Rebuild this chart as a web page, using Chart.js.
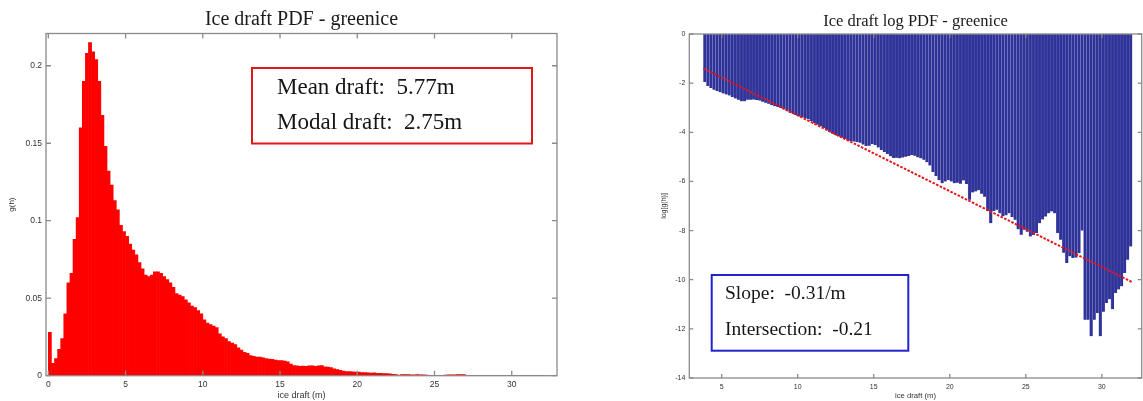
<!DOCTYPE html>
<html>
<head>
<meta charset="utf-8">
<script src="https://cdn.jsdelivr.net/npm/chart.js@4.4.1/dist/chart.umd.min.js"></script>
<style>
  html, body { margin: 0; padding: 0; background: #fff; }
  body { width: 1143px; height: 401px; position: relative; overflow: hidden; }
  .panel { position: absolute; top: 0; }
  #leftPanel { left: 0; }
  #rightPanel { left: 640px; }
</style>
</head>
<body>
<div id="leftPanel" class="panel"><canvas id="pdfChart" width="580" height="401"></canvas></div>
<div id="rightPanel" class="panel"><canvas id="logChart" width="503" height="401"></canvas></div>
<script>
// histogram bins are 0.2 m wide, values given per bin centre
const binWidth = 0.2;

// left panel: g(h), first bin centred on 0.1 m
const pdfStart = 0.1;
const pdfValues = [
  0.028, 0.008, 0.011, 0.017, 0.024, 0.040, 0.060, 0.066, 0.088, 0.102,
  0.160, 0.190, 0.208, 0.215, 0.209, 0.204, 0.190, 0.168, 0.148, 0.132,
  0.123, 0.113, 0.107, 0.097, 0.093, 0.090, 0.085, 0.081, 0.078, 0.073,
  0.069, 0.065, 0.064, 0.065, 0.067, 0.067, 0.066, 0.064, 0.062, 0.060,
  0.057, 0.053, 0.052, 0.051, 0.049, 0.047, 0.045, 0.044, 0.042, 0.040,
  0.036, 0.034, 0.033, 0.032, 0.031, 0.027, 0.025, 0.024, 0.022, 0.021,
  0.020, 0.018, 0.0165, 0.015, 0.0145, 0.013, 0.0125, 0.012, 0.012, 0.0115,
  0.011, 0.0108, 0.0105, 0.010, 0.0098, 0.0097, 0.0095, 0.009, 0.0075, 0.0065,
  0.0063, 0.006, 0.0062, 0.006, 0.0064, 0.0063, 0.0061, 0.0064, 0.0065, 0.0058,
  0.0055, 0.0052, 0.0045, 0.004, 0.0035, 0.003, 0.0027, 0.0026, 0.0025, 0.0023,
  0.0024, 0.002, 0.002, 0.0018, 0.0017, 0.0018, 0.0016, 0.0015, 0.0013, 0.0014,
  0.0012, 0.0009, 0.0007, 0.00045, 0.0007, 0.0008, 0.0007, 0.0006, 0.0006, 0.0007,
  0.0006, 0.0005, 0.0004, 0.0003, 0.0003, 0.0003, 0.0003, 0.0003, 0.0004, 0.0005,
  0.0006, 0.0006, 0.0007, 0.0007, 0.0007, 0.0003, 0.0002, 0.00014, 0.0001, 0.00012,
  0.0001, 0.0001, 0.00013, 0.0003, 0.00001, 0.00001, 0.000005, 0.00001, 0.00001, 0.000005,
  0.00001, 0.00002, 0.00002, 0.00001, 0.00003, 0.00003, 0.00004, 0.00006, 0.0001, 0.00018
];

// right panel: log[g(h)], first bin centred on 3.9 m
const logStart = 3.9;
const logValues = [
  -1.95, -2.12, -2.2, -2.27, -2.32, -2.37, -2.42, -2.46, -2.5, -2.56,
  -2.62, -2.68, -2.74, -2.74, -2.68, -2.68, -2.67, -2.69, -2.71, -2.76,
  -2.8, -2.84, -2.9, -2.94, -2.97, -3.02, -3.07, -3.14, -3.2, -3.25,
  -3.3, -3.36, -3.4, -3.43, -3.47, -3.55, -3.63, -3.69, -3.76, -3.83,
  -3.92, -4.0, -4.06, -4.12, -4.17, -4.22, -4.27, -4.31, -4.35, -4.38,
  -4.4, -4.43, -4.5, -4.56, -4.55, -4.48, -4.52, -4.62, -4.72, -4.8,
  -4.88, -4.98, -5.05, -5.04, -5.06, -5.03, -5.0, -4.97, -4.92, -4.95,
  -5.02, -5.06, -5.12, -5.22, -5.35, -5.62, -5.78, -5.95, -6.07, -6.0,
  -5.94, -6.0, -6.07, -6.05, -6.09, -5.96, -6.1, -6.75, -6.45, -6.41,
  -6.36, -6.5, -6.62, -7.2, -7.7, -7.2, -7.15, -7.3, -7.42, -7.38,
  -7.3, -7.45, -7.56, -7.95, -8.17, -7.97, -8.05, -8.24, -8.18, -8.1,
  -7.7, -7.55, -7.43, -7.3, -7.22, -7.3, -8.1, -8.37, -8.9, -9.32,
  -9.05, -9.12, -9.1, -8.92, -8.0, -11.63, -11.63, -12.3, -11.63, -11.35,
  -12.3, -11.3, -10.95, -10.8, -11.2, -10.54, -10.4, -10.27, -9.73, -9.19,
  -8.65
];

// linear fit drawn over the log pdf
const fitX = [3.8, 32.0];
const fitY = [-1.4, -10.1];

const pdfTicksX = [0, 5, 10, 15, 20, 25, 30];
const pdfTicksY = [0, 0.05, 0.1, 0.15, 0.2];
const logTicksX = [5, 10, 15, 20, 25, 30];
const logTicksY = [0, -2, -4, -6, -8, -10, -12, -14];

const pdfNotes = ['Mean draft:  5.77m', 'Modal draft:  2.75m'];
const logNotes = ['Slope:  -0.31/m', 'Intersection:  -0.21'];

const serif = '"Liberation Serif", "Times New Roman", serif';
const sans = '"Liberation Sans", Arial, sans-serif';

function toBins(start, values) {
  return values.map((v, i) => ({ x: +(start + i * binWidth).toFixed(2), y: v }));
}

// matlab style box with inward ticks on all four sides
function boxPlugin(tickLen) {
  return {
    id: 'matlabBox',
    afterDatasetsDraw(chart) {
      const { ctx, chartArea: a, scales } = chart;
      ctx.save();
      ctx.strokeStyle = '#8a8a8a';
      ctx.lineWidth = 1.3;
      ctx.strokeRect(a.left, a.top, a.right - a.left, a.bottom - a.top);
      ctx.beginPath();
      scales.x.ticks.forEach(t => {
        const px = scales.x.getPixelForValue(t.value);
        ctx.moveTo(px, a.bottom); ctx.lineTo(px, a.bottom - tickLen);
        ctx.moveTo(px, a.top); ctx.lineTo(px, a.top + tickLen);
      });
      scales.y.ticks.forEach(t => {
        const py = scales.y.getPixelForValue(t.value);
        ctx.moveTo(a.left, py); ctx.lineTo(a.left + tickLen, py);
        ctx.moveTo(a.right, py); ctx.lineTo(a.right - tickLen, py);
      });
      ctx.stroke();
      ctx.restore();
    }
  };
}

function notePlugin(lines, box) {
  return {
    id: 'noteBox',
    afterDraw(chart) {
      const ctx = chart.ctx;
      ctx.save();
      ctx.strokeStyle = box.color;
      ctx.lineWidth = 2;
      ctx.strokeRect(box.x, box.y, box.w, box.h);
      ctx.fillStyle = '#151515';
      ctx.font = box.font;
      ctx.textBaseline = 'alphabetic';
      lines.forEach((s, i) => ctx.fillText(s, box.textX, box.baselines[i]));
      ctx.restore();
    }
  };
}

function fixedTicks(list) {
  return scale => { scale.ticks = list.map(v => ({ value: v })); };
}

new Chart(document.getElementById('pdfChart'), {
  type: 'bar',
  data: {
    datasets: [{
      data: toBins(pdfStart, pdfValues),
      backgroundColor: '#ff0000',
      borderWidth: 0,
      barPercentage: 1,
      categoryPercentage: 1
    }]
  },
  options: {
    responsive: false,
    animation: false,
    layout: { padding: { left: 0, right: 23, top: 0, bottom: 0 } },
    scales: {
      x: {
        type: 'linear', min: -0.15, max: 32.93, offset: false,
        afterBuildTicks: fixedTicks(pdfTicksX),
        afterFit: s => { s.height = 25.3; },
        grid: { display: false, drawTicks: false, offset: false }, border: { display: false },
        ticks: { font: { family: sans, size: 8.5 }, color: '#333', padding: 4, maxRotation: 0, callback: v => String(v) },
        title: { display: true, text: 'ice draft (m)', font: { family: sans, size: 9 }, color: '#333', padding: 0 }
      },
      y: {
        min: 0, max: 0.2208,
        afterBuildTicks: fixedTicks(pdfTicksY),
        afterFit: s => { s.width = 46; },
        grid: { display: false, drawTicks: false }, border: { display: false },
        ticks: { font: { family: sans, size: 8.5 }, color: '#333', padding: 4, callback: v => String(v) },
        title: { display: true, text: 'g(h)', font: { family: sans, size: 8 }, color: '#333', padding: { top: 7, bottom: 0 } }
      }
    },
    plugins: {
      legend: { display: false },
      tooltip: { enabled: false },
      title: {
        display: true, fullSize: false,
        text: 'Ice draft PDF - greenice',
        font: { family: serif, size: 20, weight: 'normal' },
        color: '#1a1a1a',
        padding: { top: 8, bottom: 1.5 }
      }
    }
  },
  plugins: [boxPlugin(5), notePlugin(pdfNotes, {
    x: 252, y: 68, w: 280, h: 75.5, color: '#e01818',
    font: '23px ' + serif, textX: 277, baselines: [93.5, 128.5]
  })]
});

new Chart(document.getElementById('logChart'), {
  type: 'bar',
  data: {
    datasets: [{
      type: 'line',
      data: fitX.map((x, i) => ({ x: x, y: fitY[i] })),
      borderColor: '#e8141c',
      borderWidth: 2,
      borderDash: [2.5, 1.5],
      pointRadius: 0,
      order: 0
    }, {
      data: toBins(logStart, logValues),
      backgroundColor: '#2f3396',
      borderColor: '#6e72cc',
      borderWidth: { left: 0.5, right: 0, top: 0, bottom: 0 },
      barPercentage: 1,
      categoryPercentage: 1,
      order: 1
    }]
  },
  options: {
    responsive: false,
    animation: false,
    layout: { padding: { left: 0, right: 1.3, top: 0, bottom: 0 } },
    scales: {
      x: {
        type: 'linear', min: 2.87, max: 32.62, offset: false,
        afterBuildTicks: fixedTicks(logTicksX),
        afterFit: s => { s.height = 23; },
        grid: { display: false, drawTicks: false, offset: false }, border: { display: false },
        ticks: { font: { family: sans, size: 7 }, color: '#333', padding: 5, maxRotation: 0, callback: v => String(v) },
        title: { display: true, text: 'ice draft (m)', font: { family: sans, size: 7.7 }, color: '#333', padding: 0 }
      },
      y: {
        min: -14, max: 0,
        afterBuildTicks: fixedTicks(logTicksY),
        afterFit: s => { s.width = 49.3; },
        grid: { display: false, drawTicks: false }, border: { display: false },
        ticks: { font: { family: sans, size: 7 }, color: '#333', padding: 4, callback: v => String(v) },
        title: { display: true, text: 'log[g(h)]', font: { family: sans, size: 7 }, color: '#333', padding: { top: 20, bottom: 0 } }
      }
    },
    plugins: {
      legend: { display: false },
      tooltip: { enabled: false },
      title: {
        display: true, fullSize: false,
        text: 'Ice draft log PDF - greenice',
        font: { family: serif, size: 16.5, weight: 'normal' },
        color: '#1a1a1a',
        padding: { top: 12, bottom: 2.2 }
      }
    }
  },
  plugins: [boxPlugin(4), notePlugin(logNotes, {
    x: 71.7, y: 275, w: 196.6, h: 75.7, color: '#2222d0',
    font: '19.5px ' + serif, textX: 85, baselines: [298.5, 334.5]
  })]
});
</script>
</body>
</html>
